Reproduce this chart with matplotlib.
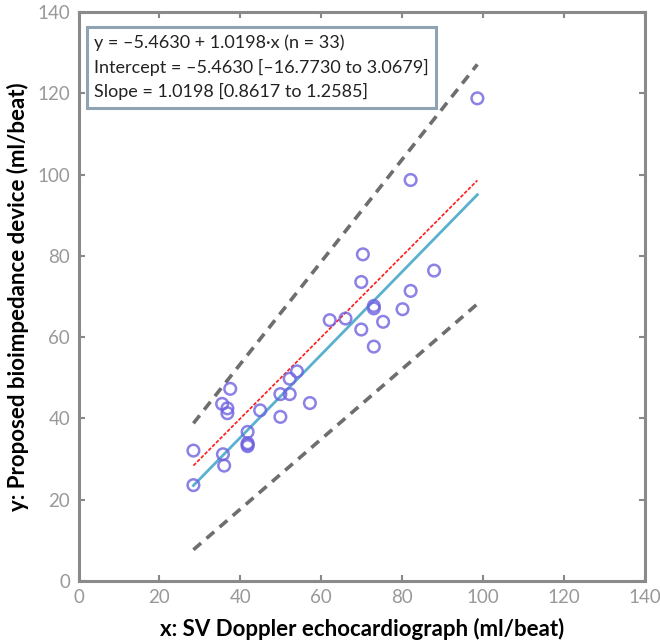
import matplotlib.pyplot as plt
import numpy as np

# SV measurements (ml/beat): Doppler echo vs bioimpedance device
x_echo = [28.4, 28.4, 35.7, 36.0, 35.5, 37.5, 36.8, 36.8, 41.8, 41.8, 41.8,
          41.8, 44.9, 49.9, 49.9, 52.2, 52.2, 54.0, 57.2, 62.1, 66.0, 69.9,
          69.9, 70.3, 73.0, 73.0, 73.0, 75.3, 80.1, 82.1, 87.9, 82.1, 98.6]
y_bioimp = [23.6, 32.1, 31.2, 28.4, 43.6, 47.3, 42.5, 41.3, 36.7, 33.9, 33.2,
            33.6, 42.0, 40.4, 46.0, 46.0, 49.8, 51.6, 43.8, 64.2, 64.6, 61.9,
            73.6, 80.4, 57.7, 67.7, 67.1, 63.8, 66.9, 71.4, 76.4, 98.7, 118.8]

# regression result (intercept, slope) with 95% CI bounds
intercept, slope = -5.4630, 1.0198
intercept_lo, intercept_hi = -16.7730, 3.0679
slope_lo, slope_hi = 0.8617, 1.2585
n_pairs = 33

axis_ticks = [0, 20, 40, 60, 80, 100, 120, 140]

plt.rcParams['font.family'] = ['Lato', 'DejaVu Sans']

fig = plt.figure(figsize=(6.6, 6.42), dpi=100)
ax = fig.add_axes([0.119, 0.095, 0.858, 0.886])

xs = np.array([min(x_echo), max(x_echo)])

# CI bounds
ax.plot(xs, intercept_hi + slope_hi * xs, color='#6e6e6e', lw=2.6,
        dashes=(2.8, 2.0), zorder=2)
ax.plot(xs, intercept_lo + slope_lo * xs, color='#6e6e6e', lw=2.6,
        dashes=(2.8, 2.0), zorder=2)
# identity line
ax.plot(xs, xs, color='#ff1a1a', lw=1.2, dashes=(2.2, 1.0), zorder=3)
# fitted line
ax.plot(xs, intercept + slope * xs, color='#5ab0cf', lw=2.0, zorder=3)

ax.scatter(x_echo, y_bioimp, s=70, facecolors='none', edgecolors='#6f63e0',
           linewidths=1.8, alpha=0.8, zorder=4)

ax.set_xlim(0, 140)
ax.set_ylim(0, 140)
ax.set_xticks(axis_ticks)
ax.set_yticks(axis_ticks)
ax.tick_params(direction='in', length=4, width=1.5, color='#888888',
               labelcolor='#999999', labelsize=13.5, top=True, right=True,
               pad=6)
for sp in ax.spines.values():
    sp.set_color('#8a8a8a')
    sp.set_linewidth(2.2)

ax.set_xlabel('x: SV Doppler echocardiograph (ml/beat)', fontsize=16,
              fontweight='bold', labelpad=8)
ax.set_ylabel('y: Proposed bioimpedance device (ml/beat)', fontsize=16,
              fontweight='bold', labelpad=6)

eq_text = (f'y = \u2013{abs(intercept):.4f} + {slope:.4f}\u00b7x (n = {n_pairs})\n'
           f'Intercept = \u2013{abs(intercept):.4f} [\u2013{abs(intercept_lo):.4f} to {intercept_hi:.4f}]\n'
           f'Slope = {slope:.4f} [{slope_lo:.4f} to {slope_hi:.4f}]')
ax.text(0.027, 0.961, eq_text, transform=ax.transAxes, fontsize=13,
        color='#222222', va='top', ha='left', linespacing=1.55,
        bbox=dict(boxstyle='square,pad=0.4', facecolor='white',
                  edgecolor='#8ea4b4', linewidth=2.2), zorder=5)

fig.savefig('out.png', dpi=100)
